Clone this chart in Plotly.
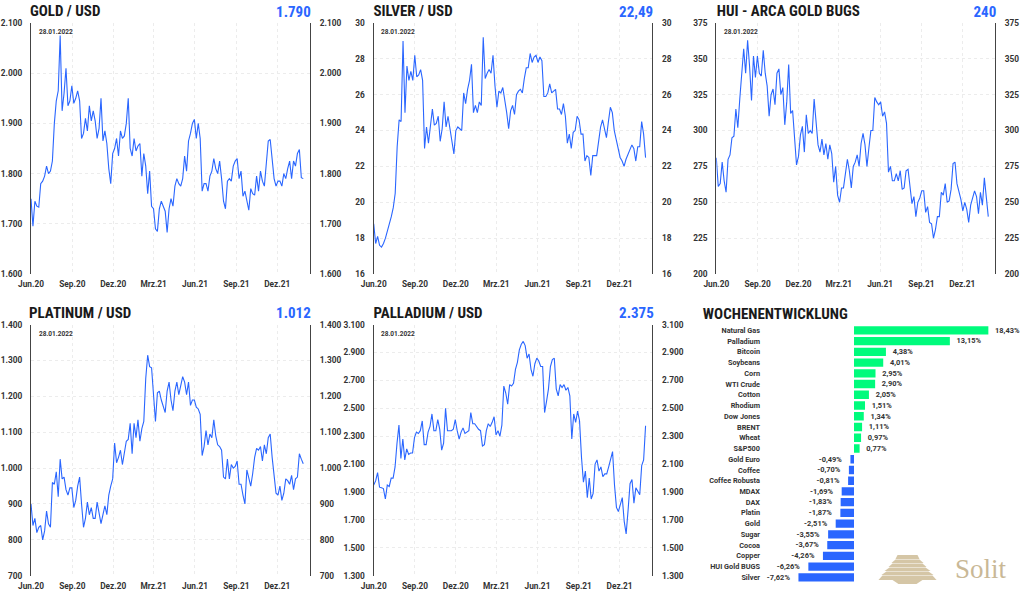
import pandas as pd
import plotly.graph_objects as go

W = 1024
H = 598

gold = [1750, 1695, 1745, 1735, 1733, 1780, 1785, 1795, 1815, 1800, 1805, 1825, 1900, 1945, 1965, 2075, 1925, 1960, 2010, 1935, 1945,
        1975, 1940, 1950, 1965, 1945, 1870, 1880, 1910, 1885, 1935, 1905, 1925, 1905, 1870, 1890, 1950, 1865, 1885, 1860, 1810, 1780,
        1840, 1850, 1870, 1835, 1885, 1870, 1875, 1900, 1950, 1850, 1835, 1870, 1845, 1855, 1860, 1795, 1840, 1815, 1760, 1805, 1735,
        1730, 1690, 1685, 1730, 1745, 1735, 1725, 1683, 1730, 1750, 1735, 1775, 1790, 1780, 1775, 1790, 1835, 1805, 1865, 1880, 1900,
        1908, 1870, 1900, 1870, 1765, 1780, 1780, 1765, 1795, 1805, 1830, 1810, 1800, 1825, 1790, 1745, 1730, 1785, 1790, 1785, 1815,
        1825, 1830, 1790, 1805, 1755, 1765, 1745, 1727, 1770, 1760, 1757, 1795, 1765, 1805, 1785, 1775, 1820, 1865, 1868, 1830, 1790,
        1775, 1785, 1785, 1775, 1800, 1790, 1810, 1825, 1790, 1825, 1815, 1840, 1848, 1792, 1790]

silver = [18.8, 17.7, 18.1, 17.6, 17.5, 17.7, 18.0, 18.4, 18.7, 19.2, 19.7, 20.5, 23.1, 24.6, 24.5, 29.0, 25.0, 27.6, 26.8, 27.3, 26.8,
          28.2, 27.0, 27.1, 27.4, 26.8, 23.0, 24.2, 23.3, 24.4, 25.2, 24.3, 24.4, 24.8, 23.4, 24.1, 25.6, 24.2, 24.8, 24.1, 23.5, 22.7,
          24.0, 24.2, 24.1, 24.0, 26.1, 25.5, 26.3, 26.8, 27.7, 25.0, 25.4, 25.0, 25.6, 25.4, 29.2, 26.9, 27.2, 27.4, 27.2, 28.2, 26.5,
          25.3, 26.2, 26.1, 26.4, 25.8, 25.0, 24.1, 25.1, 25.4, 24.9, 26.0, 26.2, 26.3, 26.1, 26.9, 27.5, 27.5, 28.3, 27.8, 28.1, 28.2,
          27.8, 28.1, 27.9, 25.9, 25.9, 26.1, 26.6, 26.1, 26.2, 26.3, 25.2, 25.2, 24.9, 25.5, 24.8, 23.3, 23.8, 23.0, 23.9, 24.0, 24.8,
          24.6, 23.8, 23.8, 22.3, 22.6, 22.5, 21.5, 22.6, 22.6, 22.6, 23.4, 24.2, 24.6, 24.0, 23.6, 24.5, 25.3, 25.0, 24.0, 23.5, 22.9,
          22.5, 22.3, 22.0, 22.4, 22.7, 23.0, 23.2, 23.0, 22.3, 23.1, 23.1, 24.5, 23.8, 22.49]

hui = [281, 261, 263, 278, 265, 257, 280, 283, 295, 296, 315, 302, 322, 337, 357, 340, 363, 345, 321, 352, 337,
       352, 340, 338, 356, 340, 331, 310, 325, 329, 318, 340, 343, 325, 330, 304, 320, 346, 312, 314, 296, 276,
       282, 297, 303, 285, 311, 298, 300, 298, 322, 305, 290, 285, 294, 283, 291, 280, 290, 284, 264, 275, 255,
       250, 260, 260, 272, 280, 272, 260, 275, 278, 283, 275, 291, 298, 290, 275, 288, 300, 300, 323, 320, 318,
       320, 310, 313, 305, 271, 275, 265, 265, 270, 265, 272, 259, 260, 272, 273, 260, 249, 254, 240, 250, 253,
       258, 258, 243, 247, 236, 235, 225, 231, 240, 240, 257, 255, 263, 250, 251, 259, 277, 278, 263, 258, 252,
       244, 250, 245, 236, 248, 254, 258, 254, 242, 257, 248, 267, 255, 240]

platinum = [900, 840, 860, 820, 835, 840, 800, 825, 880, 845, 835, 960, 955, 990, 920, 1025, 970, 975, 940, 925, 945,
            945, 890, 910, 950, 975, 900, 835, 860, 905, 870, 890, 860, 860, 905, 870, 845, 870, 895, 870, 925, 950,
            970, 1070, 1015, 1030, 1050, 1010, 1040, 1075, 1080, 1125, 1040, 1125, 1085, 1135, 1075, 1110, 1130, 1250, 1315, 1283, 1280,
            1195, 1130, 1210, 1215, 1190, 1170, 1155, 1215, 1240, 1190, 1160, 1215, 1240, 1205, 1230, 1255, 1240, 1205, 1240, 1175, 1190,
            1190, 1170, 1165, 1150, 1035, 1060, 1105, 1065, 1095, 1085, 1135, 1090, 1065, 1060, 1050, 975, 970, 1025, 970, 1010, 1000,
            1005, 1020, 955, 955, 925, 900, 995, 970, 950, 985, 1030, 1055, 1050, 1060, 1020, 1065, 1040, 1085, 1095, 1030, 975,
            930, 925, 950, 910, 930, 970, 965, 955, 980, 940, 970, 975, 1040, 1025, 1012]

palladium = [1950, 1980, 2040, 1935, 1930, 1925, 1850, 1950, 1940, 2000, 2000, 2080, 2250, 2380, 2140, 2280, 2130, 2210, 2170, 2180, 2180,
             2290, 2330, 2320, 2340, 2410, 2240, 2240, 2330, 2370, 2460, 2340, 2340, 2420, 2350, 2200, 2250, 2500, 2340, 2340, 2340, 2350,
             2420, 2340, 2280, 2330, 2360, 2320, 2330, 2340, 2470, 2390, 2390, 2370, 2350, 2340, 2230, 2240, 2340, 2390, 2370, 2400, 2440,
             2310, 2340, 2300, 2380, 2660, 2610, 2530, 2670, 2660, 2680, 2780, 2830, 2920, 2960, 2980, 2950, 2860, 2890, 2780, 2730, 2820,
             2860, 2840, 2800, 2800, 2470, 2550, 2640, 2800, 2850, 2860, 2640, 2590, 2670, 2650, 2670, 2630, 2650, 2590, 2280, 2460, 2400,
             2480, 2410, 2150, 1970, 2050, 1860, 2000, 1850, 1890, 2100, 2130, 2050, 2080, 2010, 2030, 2030, 2080, 2140, 2190, 1950, 1790,
             1760, 1810, 1860, 1690, 1600, 1770, 1960, 1990, 1820, 1930, 1900, 1880, 2090, 2130, 2375]

month_ticks = ["2020-06-01", "2020-09-01", "2020-12-01", "2021-03-01", "2021-06-01", "2021-09-01", "2021-12-01"]
month_labels = ["Jun.20", "Sep.20", "Dez.20", "Mrz.21", "Jun.21", "Sep.21", "Dez.21"]

week_names = ["Natural Gas", "Palladium", "Bitcoin", "Soybeans", "Corn", "WTI Crude", "Cotton", "Rhodium",
              "Dow Jones", "BRENT", "Wheat", "S&P500", "Gold Euro", "Coffee", "Coffee Robusta", "MDAX", "DAX",
              "Platin", "Gold", "Sugar", "Cocoa", "Copper", "HUI Gold BUGS", "Silver"]
week_values = [18.43, 13.15, 4.38, 4.01, 2.95, 2.90, 2.05, 1.51, 1.34, 1.11, 0.97, 0.77,
               -0.49, -0.70, -0.81, -1.69, -1.83, -1.87, -2.51, -3.55, -3.67, -4.26, -6.26, -7.62]

BLUE = "#2a66ff"
GREEN = "#00fb7c"
DARK = "#1a1a1a"
TICK = "#333333"
TITLE_FONT = "Roboto"


def px_x(x):
    return x / W


def px_y(y):
    return 1 - y / H


def de_num(v):
    return f"{v:,}".replace(",", ".")


# name_x and last_x are the centres of the headline texts, the squeeze below keeps the centre
panels = [
    dict(name="GOLD / USD", last="1.790", y=gold, left=31, right=310, top=23, bottom=274,
         name_x=65.5, last_x=293.5, ticks=[1600, 1700, 1800, 1900, 2000, 2100]),
    dict(name="SILVER / USD", last="22,49", y=silver, left=373.7, right=652.3, top=23, bottom=274,
         name_x=413, last_x=636, ticks=[16, 18, 20, 22, 24, 26, 28, 30]),
    dict(name="HUI - ARCA GOLD BUGS", last="240", y=hui, left=716.3, right=995, top=23, bottom=274,
         name_x=788, last_x=985, ticks=[200, 225, 250, 275, 300, 325, 350, 375]),
    dict(name="PLATINUM / USD", last="1.012", y=platinum, left=31, right=310, top=324.7, bottom=575.7,
         name_x=80, last_x=293.5, ticks=[700, 800, 900, 1000, 1100, 1200, 1300, 1400]),
    dict(name="PALLADIUM / USD", last="2.375", y=palladium, left=373.7, right=652.3, top=324.7, bottom=575.7,
         name_x=428, last_x=636, ticks=[1300, 1500, 1700, 1900, 2100, 2300, 2500, 2700, 2900, 3100]),
]

fig = go.Figure()
layout = {}
notes = []
tick_font = dict(family="Roboto", size=8.3, color=TICK, weight="bold")

for i, p in enumerate(panels):
    xname = "x" if i == 0 else f"x{2 * i + 1}"
    yname = "y" if i == 0 else f"y{2 * i + 1}"
    y2name = f"y{2 * i + 2}"
    dates = pd.date_range("2020-06-01", "2022-01-28", periods=len(p["y"]))
    labels = [de_num(t) for t in p["ticks"]]
    rng = [p["ticks"][0], p["ticks"][-1]]

    fig.add_trace(go.Scatter(x=dates, y=p["y"], mode="lines", xaxis=xname, yaxis=yname,
                             line=dict(color=BLUE, width=1.1), showlegend=False))
    # invisible copy, only there so the right axis gets drawn
    fig.add_trace(go.Scatter(x=dates, y=p["y"], mode="lines", xaxis=xname, yaxis=y2name,
                             line=dict(color="rgba(0,0,0,0)", width=0), showlegend=False, hoverinfo="skip"))

    dom_x = [px_x(p["left"]), px_x(p["right"])]
    dom_y = [px_y(p["bottom"]), px_y(p["top"])]
    layout[xname.replace("x", "xaxis")] = dict(
        domain=dom_x, anchor=yname, type="date", range=["2020-06-01", "2022-02-12"],
        tickvals=month_ticks, ticktext=month_labels, ticks="", showline=False, automargin=False,
        tickfont=tick_font, ticklabelstandoff=4,
        showgrid=True, gridcolor="#ececec", griddash="dot", gridwidth=1, zeroline=False)
    layout[yname.replace("y", "yaxis")] = dict(
        domain=dom_y, anchor=xname, range=rng, tickvals=p["ticks"], ticktext=labels, ticks="", automargin=False,
        tickfont=tick_font, ticklabelstandoff=6,
        showline=True, linecolor="#444444", linewidth=1.3,
        showgrid=True, gridcolor="#ececec", griddash="dot", gridwidth=1, zeroline=False)
    layout[y2name.replace("y", "yaxis")] = dict(
        domain=dom_y, anchor=xname, overlaying=yname, side="right", range=rng, tickvals=p["ticks"],
        ticktext=labels, ticks="", tickfont=tick_font, automargin=False, ticklabelstandoff=7,
        showline=True, linecolor="#444444", linewidth=1.3, showgrid=False, zeroline=False)

    notes.append(dict(x=px_x(p["name_x"]), y=px_y(p["top"] - 12), xref="paper", yref="paper", text=p["name"],
                      xanchor="center", yanchor="middle", showarrow=False,
                      font=dict(family=TITLE_FONT, size=15, color=DARK, weight="bold")))
    notes.append(dict(x=px_x(p["last_x"]), y=px_y(p["top"] - 11.5), xref="paper", yref="paper", text=p["last"],
                      xanchor="center", yanchor="middle", showarrow=False,
                      font=dict(family=TITLE_FONT, size=15, color=BLUE, weight="bold")))
    notes.append(dict(x=px_x(p["left"] + 24.5), y=px_y(p["top"] + 9), xref="paper", yref="paper", text="28.01.2022",
                      xanchor="center", yanchor="middle", showarrow=False,
                      font=dict(family="Roboto", size=6.5, color=TICK, weight="bold")))

# Wochenentwicklung bars
fig.add_trace(go.Bar(
    x=week_values, y=week_names, orientation="h", xaxis="x11", yaxis="y11",
    marker=dict(color=[GREEN if v > 0 else BLUE for v in week_values], line_width=0),
    text=[("\u00a0\u00a0" + f"{v:.2f}%".replace(".", ",")) if v > 0 else (f"{v:.2f}%".replace(".", ",") + "\u00a0\u00a0\u00a0")
          for v in week_values],
    textposition="outside", cliponaxis=False, showlegend=False,
    textfont=dict(family="Roboto", size=8, color=TICK, weight="bold")))

bar_left = 762
bar_right = 1012
bar_zero = 854
bar_scale = 7.29
layout["xaxis11"] = dict(domain=[px_x(bar_left), px_x(bar_right)], anchor="y11", automargin=False,
                         range=[(bar_left - bar_zero) / bar_scale, (bar_right - bar_zero) / bar_scale],
                         visible=False)
layout["yaxis11"] = dict(domain=[px_y(582.7), px_y(325)], anchor="x11", autorange="reversed", ticks="",
                         tickfont=dict(family="Roboto", size=7.3, color=TICK, weight="bold"), ticklabelstandoff=1,
                         showline=False, showgrid=False, zeroline=False, dtick=1, automargin=False)

notes.append(dict(x=px_x(775), y=px_y(314), xref="paper", yref="paper", text="WOCHENENTWICKLUNG",
                  xanchor="center", yanchor="middle", showarrow=False,
                  font=dict(family=TITLE_FONT, size=15, color=DARK, weight="bold")))
notes.append(dict(x=px_x(952.5), y=px_y(569), xref="paper", yref="paper", text="Solit",
                  xanchor="left", yanchor="middle", showarrow=False,
                  font=dict(family="Liberation Serif", size=27, color="#c9b896")))

# logo pyramid
logo = []
steps = [(10, 12, 555, 559), (12, 16, 559.5, 563), (15, 19, 563.5, 567), (18, 23, 567.5, 571), (21, 26, 571.5, 575),
         (25, 29, 575.5, 580), (15, 9, 580, 584)]
for top_w, bot_w, y0, y1 in steps:
    pts = [(907.5 - top_w, y0), (907.5 + top_w, y0), (907.5 + bot_w, y1), (907.5 - bot_w, y1)]
    path = "M " + " L ".join(f"{px_x(a):.4f} {px_y(b):.4f}" for a, b in pts) + " Z"
    logo.append(dict(type="path", path=path, xref="paper", yref="paper", fillcolor="#d5c6a6", line_width=0))

fig.update_layout(width=W, height=H, margin=dict(l=0, r=0, t=0, b=0), paper_bgcolor="white", plot_bgcolor="white",
                  bargap=0.22, annotations=notes, shapes=logo, showlegend=False, **layout)

# narrow headline look, Roboto has a width axis
squeeze = """
document.body.style.margin='0';
document.querySelectorAll('.annotation-text').forEach(function(t){
  if (parseFloat(t.style.fontSize) >= 15 && t.style.fontFamily.indexOf('Roboto') >= 0) { t.style.fontStretch='75%'; }
});
"""
fig.write_html("out.html", post_script=squeeze, config=dict(displayModeBar=False))
